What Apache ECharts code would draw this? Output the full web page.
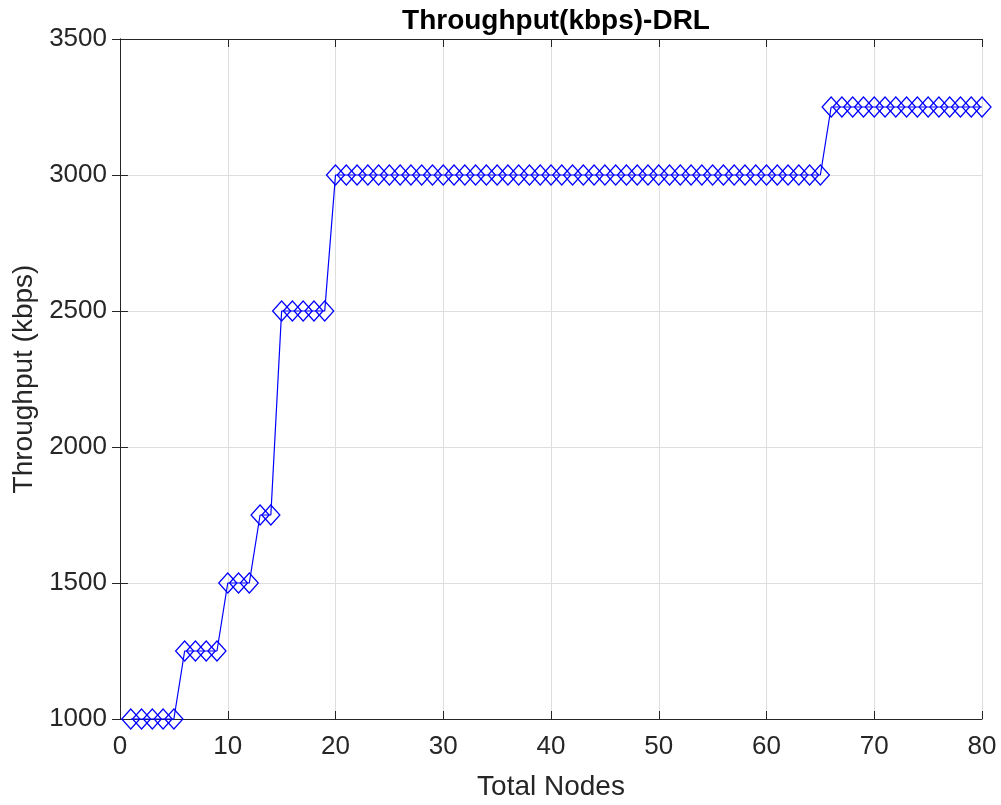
<!DOCTYPE html>
<html>
<head>
<meta charset="utf-8">
<script src="https://cdn.jsdelivr.net/npm/echarts@6/dist/echarts.min.js"></script>
<style>
  html, body { margin: 0; padding: 0; background: #fff; }
  #chart { width: 1001px; height: 805px; }
</style>
</head>
<body>
<div id="chart"></div>
<script>
// Total node counts along the x axis
const nodes = [];
for (let n = 1; n <= 80; n++) nodes.push(n);

// Throughput (kbps) per node count
const throughput = [
  1000, 1000, 1000, 1000, 1000,
  1250, 1250, 1250, 1250,
  1500, 1500, 1500,
  1750, 1750,
  2500, 2500, 2500, 2500, 2500,
  3000, 3000, 3000, 3000, 3000, 3000, 3000, 3000, 3000, 3000,
  3000, 3000, 3000, 3000, 3000, 3000, 3000, 3000, 3000, 3000,
  3000, 3000, 3000, 3000, 3000, 3000, 3000, 3000, 3000, 3000,
  3000, 3000, 3000, 3000, 3000, 3000, 3000, 3000, 3000, 3000,
  3000, 3000, 3000, 3000, 3000, 3000,
  3250, 3250, 3250, 3250, 3250, 3250, 3250, 3250, 3250, 3250,
  3250, 3250, 3250, 3250, 3250
];

const points = nodes.map((n, i) => [n, throughput[i]]);

const FONT = 'Liberation Sans, Arial, Helvetica, sans-serif';
const AXIS_COLOR = '#262626';

// Box outline on the top and right sides, with inward ticks and no labels
const hiddenTextAxis = {
  axisLine: { show: true, lineStyle: { color: AXIS_COLOR, width: 1 } },
  axisTick: { show: true, inside: true, length: 8, lineStyle: { color: AXIS_COLOR } },
  axisLabel: { show: false },
  splitLine: { show: false }
};

const chart = echarts.init(document.getElementById('chart'), null, { renderer: 'canvas' });
chart.setOption({
  animation: false,
  backgroundColor: '#ffffff',
  title: {
    text: 'Throughput(kbps)-DRL',
    left: 551, top: 2, textAlign: 'center',
    textStyle: { fontFamily: FONT, fontSize: 28, fontWeight: 'bold', color: '#000' }
  },
  grid: { left: 120, right: 19, top: 39, bottom: 86, containLabel: false, outerBoundsMode: 'none' },
  xAxis: [
    {
      type: 'value', min: 0, max: 80, interval: 10,
      name: 'Total Nodes', nameLocation: 'middle', nameGap: 54,
      nameTextStyle: { fontFamily: FONT, fontSize: 28, color: AXIS_COLOR },
      axisLine: { lineStyle: { color: AXIS_COLOR, width: 1 } },
      axisTick: { inside: true, length: 8, lineStyle: { color: AXIS_COLOR } },
      axisLabel: { fontFamily: FONT, fontSize: 26, color: AXIS_COLOR, margin: 15 },
      splitLine: { show: true, lineStyle: { color: '#dedede', width: 1 } }
    },
    Object.assign({ type: 'value', min: 0, max: 80, interval: 10, position: 'top' }, hiddenTextAxis)
  ],
  yAxis: [
    {
      type: 'value', min: 1000, max: 3500, interval: 500,
      name: 'Throughput (kbps)', nameLocation: 'middle', nameGap: 80,
      nameTextStyle: { fontFamily: FONT, fontSize: 28, color: AXIS_COLOR },
      axisLine: { show: true, lineStyle: { color: AXIS_COLOR, width: 1 } },
      axisTick: { show: true, inside: true, length: 8, lineStyle: { color: AXIS_COLOR } },
      axisLabel: {
        fontFamily: FONT, fontSize: 26, color: AXIS_COLOR, margin: 13,
        formatter: (v) => String(v)
      },
      splitLine: { show: true, lineStyle: { color: '#dedede', width: 1 } }
    },
    Object.assign({ type: 'value', min: 1000, max: 3500, interval: 500, position: 'right' }, hiddenTextAxis)
  ],
  series: [{
    type: 'line',
    data: points,
    xAxisIndex: 0, yAxisIndex: 0,
    symbol: 'diamond',
    symbolSize: [18, 20],
    showAllSymbol: true,
    clip: false,
    lineStyle: { color: '#0000ff', width: 1.2 },
    itemStyle: { color: 'rgba(255,255,255,0)', borderColor: '#0000ff', borderWidth: 1.3 },
    emphasis: { disabled: true }
  }]
});
</script>
</body>
</html>
